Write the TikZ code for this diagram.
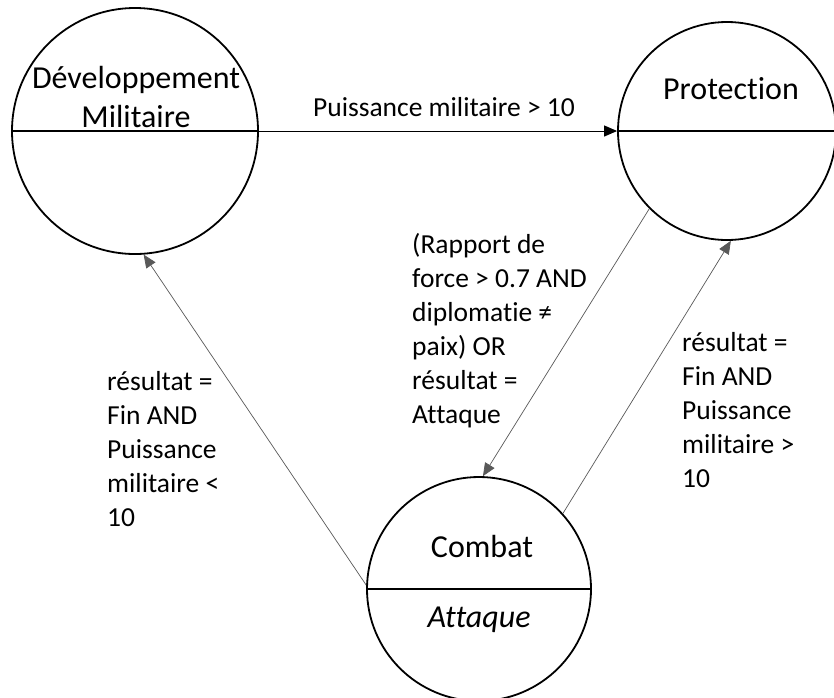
\documentclass[tikz,border=0pt]{standalone}
\usepackage{fontspec}
\setmainfont{Carlito}[Ligatures={NoCommon}]
\usetikzlibrary{arrows.meta}
\begin{document}
\begin{tikzpicture}[x=1pt,y=-1pt,
  state/.style={circle,draw,line width=1.8pt,inner sep=0pt},
  divider/.style={line width=2.2pt},
  conn/.style={draw=black!65,line width=0.7pt,-{Triangle[length=13pt,width=11pt]}},
  hconn/.style={draw=black,line width=1pt,-{Triangle[length=13pt,width=11pt]}},
  lbl/.style={font=\fontsize{27.5}{34}\selectfont,align=left,inner sep=0pt,anchor=north west},
  hlbl/.style={font=\fontsize{27.5}{34}\selectfont,inner sep=0pt,anchor=base},
  title/.style={font=\fontsize{32}{39}\selectfont,inner sep=0pt,anchor=base}]
\useasboundingbox (0,0) rectangle (834,697);
\fill[white] (0,0) rectangle (834,697);
% states
\node[state,minimum size=246pt] (dev) at (135,131) {};
\node[state,minimum size=218pt] (prot) at (727,131) {};
\node[state,minimum size=224pt] (comb) at (479,589) {};
\draw[divider] (dev.west) -- (dev.east);
\draw[divider] (prot.west) -- (prot.east);
\draw[divider] (comb.west) -- (comb.east);
% titles
\node[title] (devt1) at (136,88) {Développement};
\node[title] (devt2) at (136,127) {Militaire};
\node[title] (prott) at (731,99) {Protection};
\node[title] (combt) at (482,557) {Combat};
\node[title] (comba) at (479,627) {\itshape Attaque};
% connectors
\draw[hconn] (dev.east) -- (prot.west);
\draw[conn] (prot.-135) -- (comb.88);
\draw[conn] (comb.42) -- (prot.-88);
\draw[conn] (comb.178) -- (dev.-86);
% labels
\node[hlbl] (l1) at (444,116) {Puissance militaire > 10};
\node[lbl] (l2) at (412,233) {(Rapport de\\force > 0.7 AND\\diplomatie ≠\\paix) OR\\résultat =\\Attaque};
\node[lbl] (l3) at (107,371) {résultat =\\Fin AND\\Puissance\\militaire <\\10};
\node[lbl] (l4) at (682,332) {résultat =\\Fin AND\\Puissance\\militaire >\\10};
\end{tikzpicture}
\end{document}
